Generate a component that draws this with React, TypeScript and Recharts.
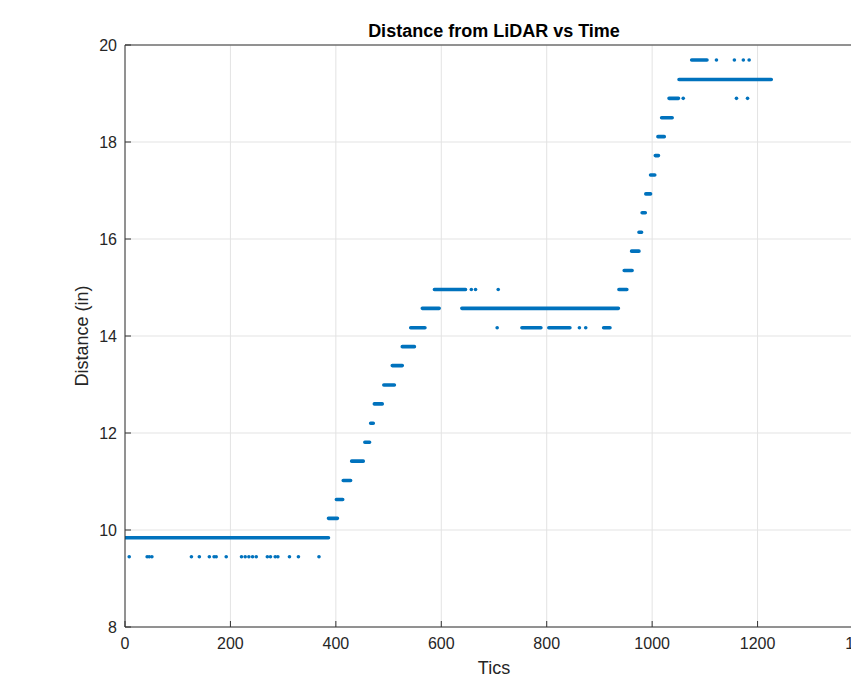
import React from "react";
import {
  ComposedChart,
  Line,
  Scatter,
  XAxis,
  YAxis,
  CartesianGrid,
  Label,
} from "recharts";

// constant-reading stretches of the sensor: level (in), first tic, last tic
const runLevel = [
  9.84, 10.24, 10.63, 11.02, 11.42, 11.81, 12.2, 12.6, 12.99, 13.39, 13.78,
  14.17, 14.57, 14.96, 14.57, 14.17, 14.17, 14.17, 14.96, 15.35, 15.75, 16.14,
  16.54, 16.93, 17.32, 17.72, 18.11, 18.5, 18.9, 19.29, 19.69,
];
const runFrom = [
  1, 386, 401, 414, 430, 455, 466, 473, 491, 507, 526,
  542, 564, 587, 639, 753, 804, 908, 937, 947, 961, 975,
  981, 988, 997, 1006, 1011, 1018, 1032, 1051, 1075,
];
const runTo = [
  386, 403, 413, 428, 452, 464, 471, 488, 511, 526, 549,
  569, 596, 646, 936, 789, 844, 920, 952, 962, 975, 980,
  987, 997, 1005, 1012, 1023, 1038, 1050, 1226, 1104,
];

// single stray readings
const dotTics = [
  8, 42, 46, 51, 126, 141, 160, 169, 173, 192, 221, 228, 235, 242, 249, 270,
  276, 285, 290, 312, 329, 368,
  657, 665, 708,
  706, 862, 874,
  1059, 1160, 1181,
  1122, 1156, 1173, 1184,
];
const dotDist = [
  9.45, 9.45, 9.45, 9.45, 9.45, 9.45, 9.45, 9.45, 9.45, 9.45, 9.45, 9.45, 9.45,
  9.45, 9.45, 9.45, 9.45, 9.45, 9.45, 9.45, 9.45, 9.45,
  14.96, 14.96, 14.96,
  14.17, 14.17, 14.17,
  18.9, 18.9, 18.9,
  19.69, 19.69, 19.69, 19.69,
];

const xTicks = [0, 200, 400, 600, 800, 1000, 1200, 1400];
const yTicks = [8, 10, 12, 14, 16, 18, 20];

const BLUE = "#0072BD";
const AXIS = "#333333";
const FONT = "'Liberation Sans', Arial, Helvetica, sans-serif";

const lineData = runLevel.flatMap((v, i) => [
  { x: runFrom[i], y: v },
  { x: runTo[i], y: v },
  { x: runTo[i], y: null },
]);
const dotData = dotTics.map((x, i) => ({ x, y: dotDist[i] }));

const tickStyle = { fill: "#262626", fontSize: 16, fontFamily: FONT };

export default function App() {
  return (
    <div
      style={{
        position: "absolute",
        left: 0,
        top: 0,
        width: 851,
        height: 677,
        overflow: "hidden",
        background: "#fff",
      }}
    >
      <ComposedChart
        width={900}
        height={677}
        margin={{ top: 0, right: 0, bottom: 0, left: 0 }}
      >
        <CartesianGrid stroke="#e3e3e3" />
        <XAxis
          dataKey="x"
          type="number"
          domain={[0, 1400]}
          ticks={xTicks}
          height={50}
          stroke={AXIS}
          tickSize={-6}
          tickMargin={17}
          tick={tickStyle}
          allowDataOverflow
        >
          <Label
            value="Tics"
            position="insideBottom"
            offset={3}
            style={{ fill: "#262626", fontSize: 18, fontFamily: FONT }}
          />
        </XAxis>
        <XAxis
          xAxisId="top"
          orientation="top"
          type="number"
          domain={[0, 1400]}
          ticks={xTicks}
          height={45}
          stroke={AXIS}
          tickSize={-6}
          tickFormatter={() => ""}
        >
          <Label
            value="Distance from LiDAR vs Time"
            position="insideBottom"
            offset={8}
            style={{
              fill: "#000",
              fontSize: 18,
              fontWeight: "bold",
              fontFamily: FONT,
            }}
          />
        </XAxis>
        <YAxis
          dataKey="y"
          type="number"
          domain={[8, 20]}
          ticks={yTicks}
          width={125}
          stroke={AXIS}
          tickSize={-6}
          tickMargin={14}
          tick={tickStyle}
          allowDataOverflow
        >
          <Label
            content={(p: any) => {
              const cx = 82;
              const cy = p.viewBox.y + p.viewBox.height / 2;
              return (
                <text
                  x={cx}
                  y={cy}
                  transform={`rotate(-90 ${cx} ${cy})`}
                  textAnchor="middle"
                  dominantBaseline="central"
                  fill="#262626"
                  fontSize={18}
                  fontFamily={FONT}
                >
                  Distance (in)
                </text>
              );
            }}
          />
        </YAxis>
        <YAxis
          yAxisId="right"
          orientation="right"
          type="number"
          domain={[8, 20]}
          ticks={yTicks}
          width={37}
          stroke={AXIS}
          tickSize={-6}
          tickFormatter={() => ""}
        />
        <Line
          data={lineData}
          dataKey="y"
          type="linear"
          stroke={BLUE}
          strokeWidth={3.6}
          strokeLinecap="round"
          dot={false}
          activeDot={false}
          connectNulls={false}
          isAnimationActive={false}
        />
        <Scatter
          data={dotData}
          dataKey="y"
          fill={BLUE}
          isAnimationActive={false}
          shape={(p: any) => <circle cx={p.cx} cy={p.cy} r={1.8} fill={BLUE} />}
        />
      </ComposedChart>
    </div>
  );
}
